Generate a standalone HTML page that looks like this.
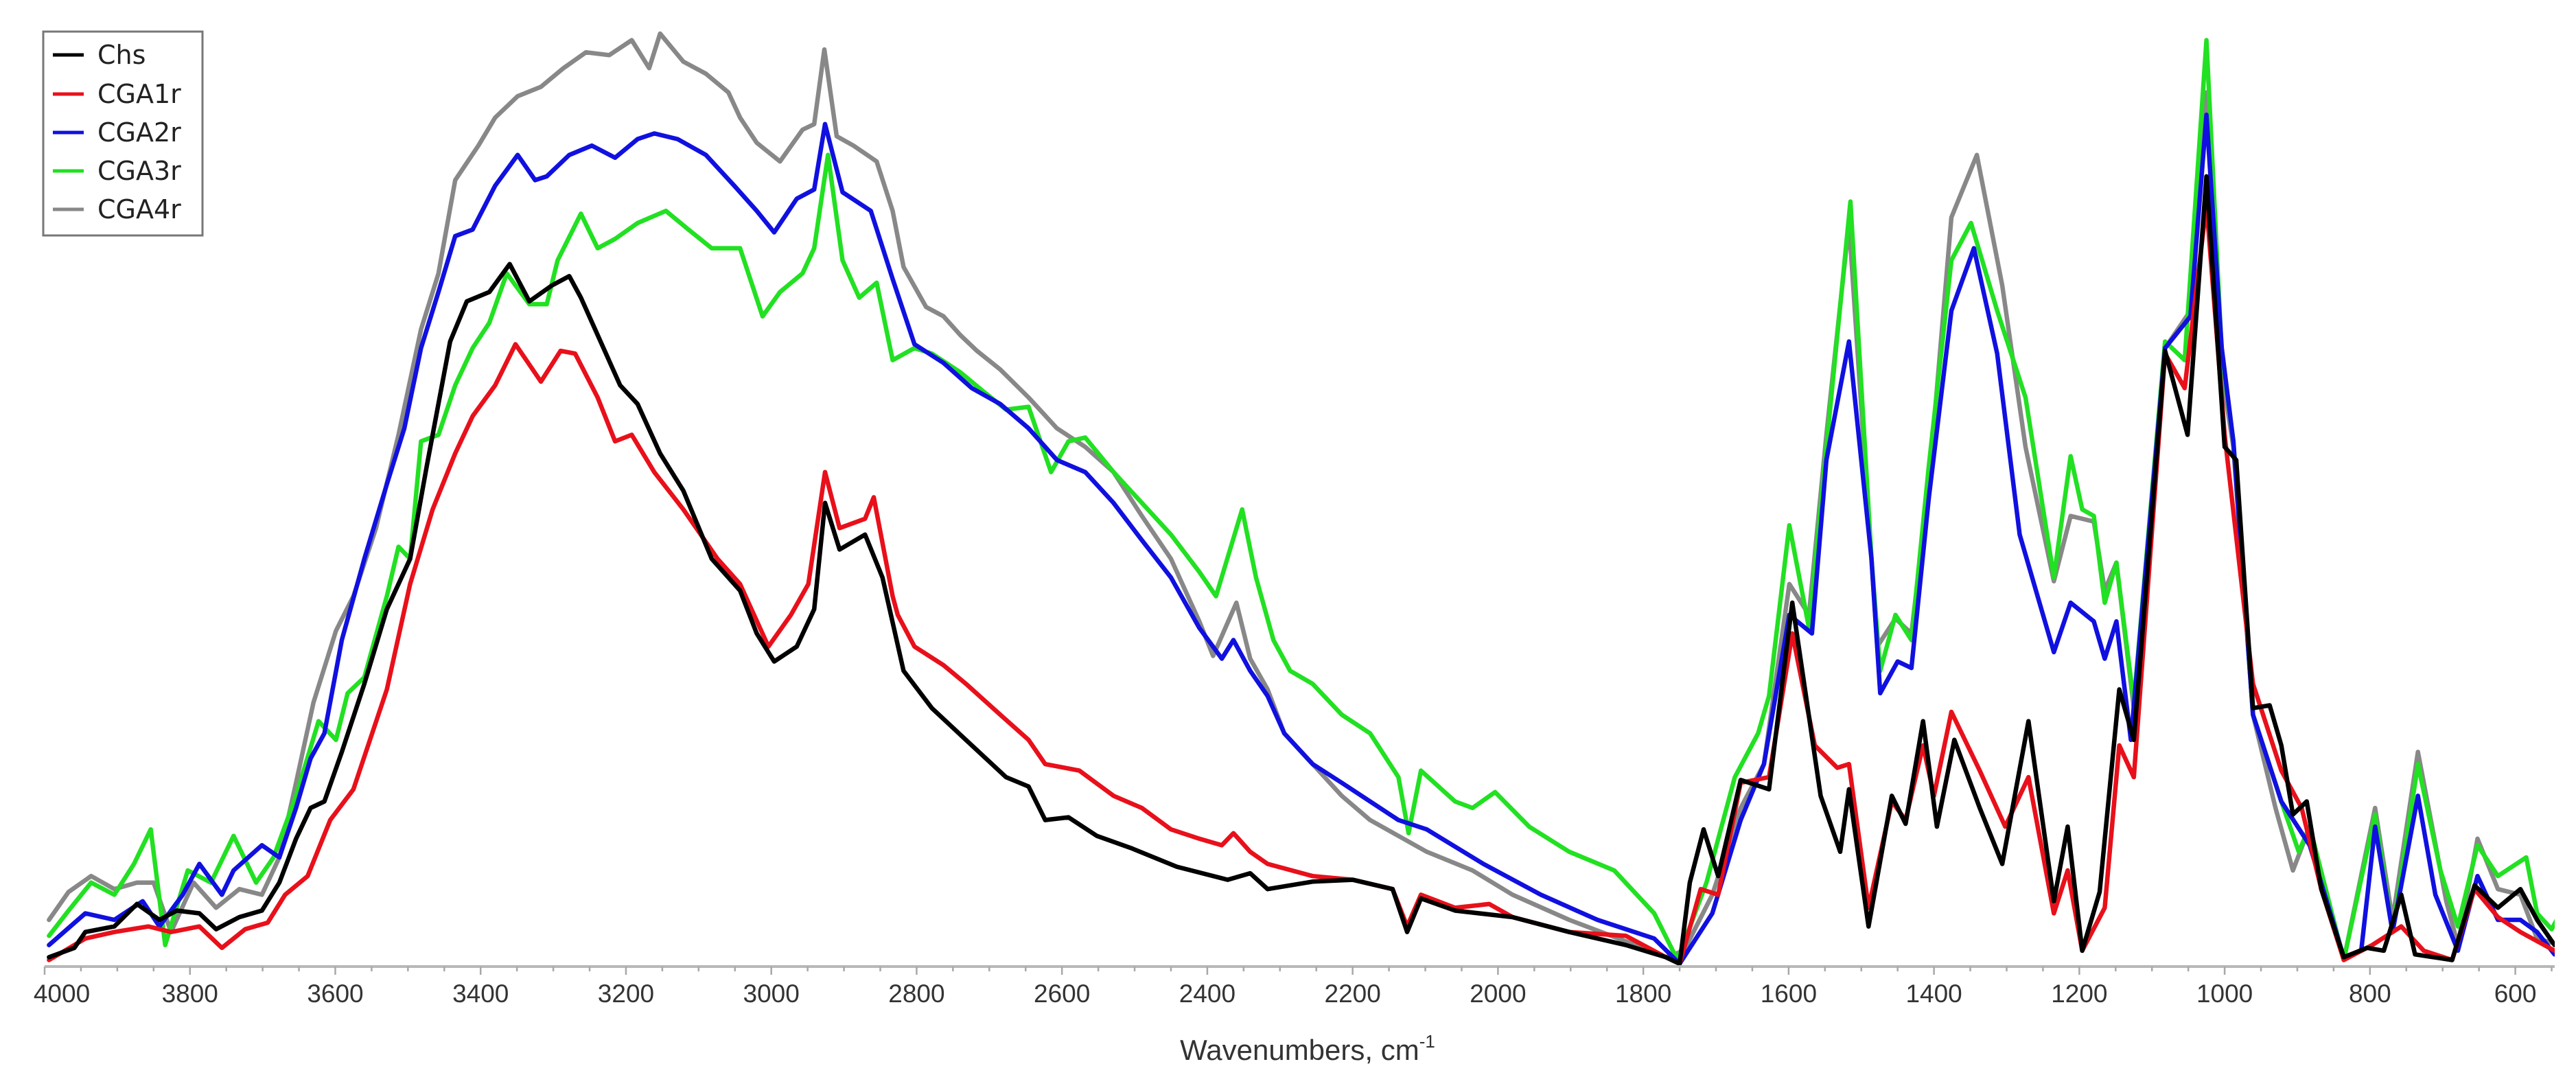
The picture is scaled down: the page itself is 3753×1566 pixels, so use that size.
<!DOCTYPE html>
<html><head><meta charset="utf-8"><style>
html,body{margin:0;padding:0;background:#fff;}
svg{display:block;font-family:"Liberation Sans","DejaVu Sans",sans-serif;}
</style></head><body>
<svg id="chart" width="3753" height="1566" viewBox="0 0 3753 1566" xmlns="http://www.w3.org/2000/svg">
<rect x="0" y="0" width="3753" height="1566" fill="#fff"/>
<defs><clipPath id="plotclip"><rect x="40" y="0" width="3682" height="1412"/></clipPath></defs>
<g id="series" clip-path="url(#plotclip)"></g>
<g id="axis"></g>
<text x="1905" y="1544" text-anchor="middle" font-size="42" fill="#333">Wavenumbers, cm<tspan dy="-18" font-size="26">-1</tspan></text>
<g>
<rect x="63" y="46" width="232" height="297" fill="#fff" stroke="#777" stroke-width="3"/>
<g><line x1="77" y1="80" x2="122" y2="80" stroke="#000" stroke-width="5"/><text x="142" y="93" font-size="38" font-family="DejaVu Sans, sans-serif" fill="#222">Chs</text></g>
<g><line x1="77" y1="137" x2="122" y2="137" stroke="#e8101a" stroke-width="5"/><text x="142" y="150" font-size="38" font-family="DejaVu Sans, sans-serif" fill="#222">CGA1r</text></g>
<g><line x1="77" y1="193" x2="122" y2="193" stroke="#1010e0" stroke-width="5"/><text x="142" y="206" font-size="38" font-family="DejaVu Sans, sans-serif" fill="#222">CGA2r</text></g>
<g><line x1="77" y1="249" x2="122" y2="249" stroke="#22e022" stroke-width="5"/><text x="142" y="262" font-size="38" font-family="DejaVu Sans, sans-serif" fill="#222">CGA3r</text></g>
<g><line x1="77" y1="305" x2="122" y2="305" stroke="#888" stroke-width="5"/><text x="142" y="318" font-size="38" font-family="DejaVu Sans, sans-serif" fill="#222">CGA4r</text></g>
</g>
<script>
const tickLabels = [4000,3800,3600,3400,3200,3000,2800,2600,2400,2200,2000,1800,1600,1400,1200,1000,800,600];
const chsW = [3994,3959,3944,3904,3873,3842,3818,3787,3764,3732,3701,3677,3654,3634,3615,3591,3560,3529,3497,3474,3442,3419,3388,3360,3333,3302,3278,3262,3239,3208,3184,3153,3121,3082,3043,3020,2996,2965,2941,2926,2906,2871,2847,2818,2779,2724,2677,2646,2623,2591,2552,2505,2442,2372,2341,2317,2255,2200,2145,2125,2106,2059,1980,1902,1824,1769,1750,1736,1717,1697,1666,1627,1595,1556,1529,1517,1490,1458,1439,1415,1396,1372,1337,1306,1270,1235,1216,1196,1172,1145,1125,1082,1051,1025,1000,984,961,938,922,906,887,867,836,804,781,757,738,687,656,624,593,570,546];
const chsV = [1.0,2.0,3.7,4.3,6.7,5.0,6.0,5.7,4.0,5.3,6.0,9.0,13.7,17.0,17.7,23.0,30.3,38.3,43.7,53.7,67.0,71.3,72.3,75.3,71.3,73.0,74.0,71.7,67.7,62.3,60.3,55.0,51.0,43.7,40.3,35.7,32.7,34.3,38.3,49.7,44.7,46.3,41.7,31.7,27.7,23.7,20.3,19.3,15.7,16.0,14.0,12.7,10.7,9.3,10.0,8.3,9.1,9.3,8.3,3.7,7.3,6.0,5.3,3.7,2.3,1.0,0.3,9.0,14.7,9.7,20.0,19.0,39.0,18.3,12.3,19.0,4.3,18.3,15.3,26.3,15.0,24.3,17.0,11.0,26.3,7.0,15.0,1.7,8.0,29.7,24.3,66.0,57.0,84.7,55.7,54.3,27.7,28.0,23.7,16.3,17.7,8.3,1.0,2.0,1.7,7.7,1.3,0.7,8.7,6.3,8.3,5.0,2.3];
const cga1W = [3994,3944,3904,3857,3826,3787,3756,3724,3693,3669,3638,3607,3575,3529,3497,3466,3435,3411,3380,3352,3317,3290,3270,3239,3215,3192,3161,3121,3074,3043,3004,2973,2949,2926,2906,2871,2859,2833,2826,2803,2763,2732,2685,2646,2623,2576,2529,2490,2450,2411,2380,2364,2341,2317,2255,2200,2145,2125,2106,2059,2012,1980,1902,1824,1769,1750,1721,1697,1666,1627,1595,1564,1533,1517,1490,1458,1439,1415,1400,1376,1337,1302,1270,1235,1216,1196,1165,1145,1125,1082,1055,1025,1000,961,922,894,867,836,797,757,726,687,656,624,593,546];
const cga1V = [0.7,3.0,3.7,4.3,3.7,4.3,2.0,4.0,4.7,7.7,9.7,15.7,19.0,29.7,41.0,49.0,55.0,59.0,62.3,66.7,62.7,66.0,65.7,61.0,56.3,57.0,53.0,49.0,43.7,41.0,34.3,37.7,41.0,53.0,47.0,48.0,50.3,39.7,37.7,34.3,32.3,30.3,27.0,24.3,21.7,21.0,18.3,17.0,14.7,13.7,13.0,14.3,12.3,11.0,9.7,9.3,8.3,4.3,7.7,6.3,6.7,5.3,3.7,3.3,1.0,0.3,8.3,7.7,19.7,20.3,35.7,23.7,21.3,21.7,6.3,17.7,15.7,23.7,18.3,27.3,21.0,15.0,20.3,5.7,10.3,1.7,6.3,23.7,20.3,65.7,62.0,81.7,57.0,30.3,21.0,17.0,8.3,0.7,2.3,4.3,1.7,0.7,8.3,5.3,3.7,1.7];
const cga2W = [3994,3944,3904,3865,3842,3810,3787,3756,3740,3701,3677,3654,3634,3615,3591,3560,3529,3505,3482,3458,3435,3411,3380,3349,3325,3309,3278,3247,3215,3184,3161,3129,3090,3051,3020,2996,2965,2941,2926,2902,2863,2833,2803,2763,2724,2685,2646,2607,2568,2529,2490,2450,2411,2380,2364,2341,2317,2294,2255,2215,2176,2137,2098,2020,1941,1863,1785,1750,1705,1666,1634,1599,1568,1548,1517,1486,1474,1450,1431,1407,1376,1345,1313,1282,1235,1212,1180,1165,1149,1129,1082,1047,1025,1004,988,961,922,883,836,812,793,769,734,710,679,652,624,593,570,546];
const cga2V = [2.3,5.7,5.0,7.0,4.3,7.7,11.0,7.7,10.3,13.0,11.7,17.0,22.3,25.0,35.0,43.7,51.7,57.7,66.3,72.3,78.3,79.0,83.7,87.0,84.3,84.7,87.0,88.0,86.7,88.7,89.3,88.7,87.0,83.7,81.0,78.7,82.3,83.3,90.3,83.0,81.0,73.7,66.7,64.7,62.0,60.3,57.7,54.3,53.0,49.7,45.7,41.7,36.3,33.0,35.0,31.7,29.0,25.0,21.7,19.7,17.7,15.7,14.7,11.0,7.7,5.0,3.0,0.3,5.7,15.7,21.7,37.7,35.7,54.3,67.0,43.7,29.3,32.7,32.0,50.3,70.3,77.0,65.7,46.3,33.7,39.0,37.0,33.0,37.0,24.3,66.3,69.7,91.3,66.3,56.3,27.0,17.7,13.0,1.0,1.7,15.0,3.7,18.3,7.7,1.7,9.7,5.0,5.0,3.7,1.3];
const cga3W = [3994,3967,3936,3904,3877,3854,3834,3803,3771,3740,3709,3685,3654,3623,3599,3583,3560,3529,3513,3497,3482,3458,3435,3411,3388,3364,3333,3309,3294,3262,3239,3215,3184,3145,3114,3082,3043,3012,2988,2957,2941,2922,2902,2879,2855,2833,2803,2779,2740,2709,2677,2646,2615,2591,2568,2529,2490,2450,2411,2388,2352,2333,2309,2286,2255,2215,2176,2137,2123,2106,2059,2035,2004,1957,1902,1840,1785,1753,1713,1674,1642,1627,1599,1572,1548,1515,1486,1474,1453,1431,1407,1376,1349,1313,1274,1235,1212,1196,1180,1165,1149,1125,1082,1055,1025,1004,988,961,922,898,883,836,793,769,734,703,679,652,624,585,570,550,538];
const cga3V = [3.3,6.0,9.0,7.7,11.0,14.7,2.3,10.3,9.0,14.0,9.0,11.7,18.3,26.3,24.3,29.3,31.0,39.7,45.0,43.7,56.3,57.0,62.3,66.3,69.0,74.3,71.0,71.0,75.7,80.7,77.0,78.0,79.7,81.0,79.0,77.0,77.0,69.7,72.3,74.3,77.0,87.0,75.7,71.7,73.3,65.0,66.3,65.7,63.7,61.7,59.7,60.0,53.0,56.3,56.7,53.0,49.7,46.3,42.3,39.7,49.0,41.7,35.0,31.7,30.3,27.0,25.0,20.3,14.3,21.0,17.7,17.0,18.7,15.0,12.3,10.3,5.7,0.7,9.0,20.3,25.0,29.0,47.3,36.3,55.7,82.0,43.7,31.7,37.7,35.0,53.7,75.7,79.7,70.3,61.0,41.7,54.7,49.0,48.3,39.0,43.3,28.3,67.0,65.0,99.3,65.7,56.3,27.0,17.7,12.3,15.0,0.7,16.3,3.7,21.7,10.3,4.3,13.0,9.7,11.7,5.7,4.0,5.7];
const cga4W = [3994,3967,3936,3904,3873,3850,3826,3795,3764,3732,3701,3677,3654,3630,3599,3575,3544,3513,3482,3458,3435,3403,3380,3349,3317,3286,3255,3223,3192,3168,3153,3121,3090,3059,3043,3020,2988,2957,2941,2927,2910,2887,2855,2833,2818,2787,2763,2740,2717,2685,2646,2607,2568,2529,2490,2450,2411,2392,2360,2341,2317,2294,2255,2215,2176,2137,2098,2035,1980,1902,1824,1769,1744,1705,1666,1634,1599,1572,1548,1517,1478,1453,1431,1407,1376,1341,1306,1274,1235,1212,1180,1165,1149,1125,1082,1047,1025,1004,988,961,930,906,883,836,793,769,734,695,679,652,624,593,570,538];
const cga4V = [5.0,8.0,9.7,8.3,9.0,9.0,3.7,9.0,6.3,8.3,7.7,11.7,19.7,28.3,36.0,39.7,47.0,57.0,68.3,74.3,84.3,88.0,91.0,93.3,94.3,96.3,98.0,97.7,99.3,96.3,100.0,97.0,95.7,93.7,91.0,88.3,86.3,89.7,90.3,98.3,89.0,88.0,86.3,81.0,75.0,70.7,69.7,67.7,66.0,64.0,61.0,57.7,55.7,53.0,48.3,43.7,37.0,33.3,39.0,33.0,29.7,25.0,21.7,18.3,15.7,14.0,12.3,10.3,7.7,5.0,2.7,1.0,1.7,7.7,17.0,21.7,41.0,37.7,57.0,79.7,34.3,37.3,35.7,51.7,80.3,87.0,73.0,55.7,41.3,48.3,47.7,40.3,43.3,27.7,66.3,70.3,93.7,63.7,55.7,27.0,17.0,10.3,15.0,0.7,17.0,5.0,23.0,7.0,2.3,13.7,8.3,7.7,3.0,2.3];

const NS = 'http://www.w3.org/2000/svg';
function xOf(w){ return 65 + (4000 - w) * 1.0587; }
function yOf(v){ return 1408 - v * 13.59; }

const seriesGroup = document.getElementById('series');
function drawSeries(ws, vs, color, name){
  let d = '';
  for (let i = 0; i < ws.length; i++) {
    d += (i ? 'L' : 'M') + xOf(ws[i]).toFixed(1) + ' ' + yOf(vs[i]).toFixed(1);
  }
  const p = document.createElementNS(NS, 'path');
  p.setAttribute('d', d);
  p.setAttribute('fill', 'none');
  p.setAttribute('stroke', color);
  p.setAttribute('stroke-width', '6.5');
  p.setAttribute('stroke-linejoin', 'round');
  p.setAttribute('stroke-linecap', 'round');
  
  
  seriesGroup.appendChild(p);
}
drawSeries(cga4W, cga4V, '#888888', 'series-cga4r');
drawSeries(cga3W, cga3V, '#22e022', 'series-cga3r');
drawSeries(cga2W, cga2V, '#1010e0', 'series-cga2r');
drawSeries(cga1W, cga1V, '#e8101a', 'series-cga1r');
drawSeries(chsW, chsV, '#000000', 'series-chs');

const axis = document.getElementById('axis');
const base = document.createElementNS(NS, 'line');
base.setAttribute('x1', 65); base.setAttribute('x2', 3722);
base.setAttribute('y1', 1408); base.setAttribute('y2', 1408);
base.setAttribute('stroke', '#b8b8b8'); base.setAttribute('stroke-width', '4');


axis.appendChild(base);
for (let w = 4000; w >= 550; w -= 50) {
  const major = (w % 200 === 0);
  const t = document.createElementNS(NS, 'line');
  t.setAttribute('x1', xOf(w)); t.setAttribute('x2', xOf(w));
  t.setAttribute('y1', 1408); t.setAttribute('y2', major ? 1420 : 1415);
  t.setAttribute('stroke', '#a8a8a8'); t.setAttribute('stroke-width', '2.5');
  
  
  axis.appendChild(t);
}
tickLabels.forEach(function(w){
  const tx = document.createElementNS(NS, 'text');
  tx.setAttribute('x', w === 4000 ? xOf(w) + 25 : xOf(w));
  tx.setAttribute('y', 1460);
  tx.setAttribute('text-anchor', 'middle');
  tx.setAttribute('font-size', '37');
  tx.setAttribute('fill', '#333');
  
  
  tx.textContent = w;
  axis.appendChild(tx);
});
</script>
</svg>
</body></html>
